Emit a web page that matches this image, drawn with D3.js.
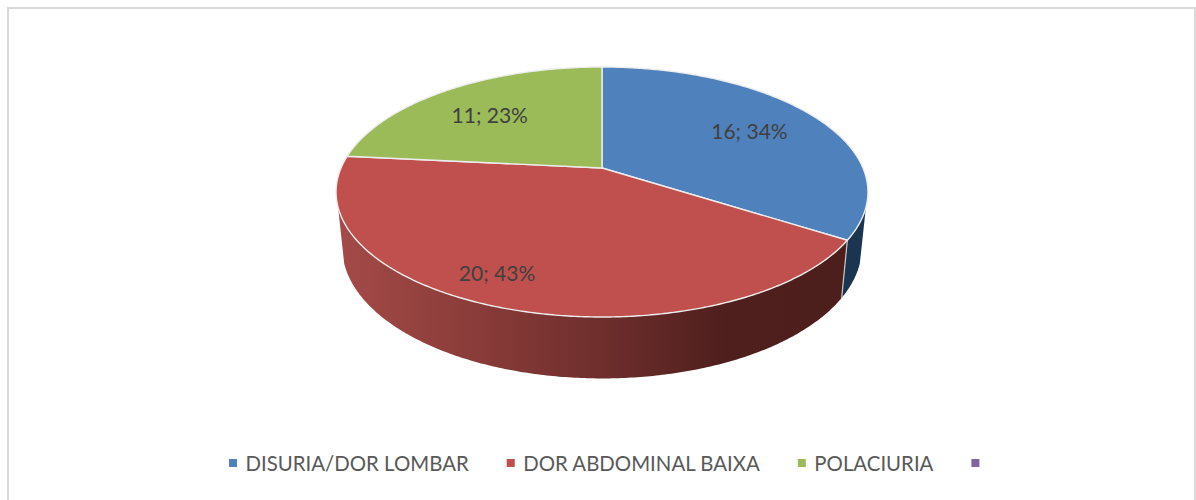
<!DOCTYPE html>
<html><head><meta charset="utf-8">
<script src="https://cdn.jsdelivr.net/npm/d3@7"></script>
<style>html,body{margin:0;padding:0;background:#fff;overflow:hidden}svg{display:block}</style>
</head><body><svg id="c" width="1196" height="500"></svg>
<script>
const categories = ["DISURIA/DOR LOMBAR", "DOR ABDOMINAL BAIXA", "POLACIURIA", ""];
const values = [16, 20, 11, 0];
const colors = ["#4F81BD", "#C0504D", "#9BBB59", "#8064A2"];
const wallColors = ["#1B3450", null, "#4E6128", "#40315A"];
const redWallStops = [[0, "#A44A48"], [0.3, "#863A37"], [0.55, "#6A2C2A"], [0.76, "#4E1F1D"], [1, "#4C1E1C"]];
const labelShift = [[0, 0], [-38, 16], [-3, 2], [0, 0]];

const svg = d3.select("#c");
svg.append("path").attr("d", "M8 500V8H1195V500").attr("fill", "none").attr("stroke", "#D9D9D9").attr("stroke-width", 2);

const k = 0.192;
const rings = {
  top: {cx: 602, cy: 168, a: 261, b: 120.4},
  base: {cx: 602, cy: 222, a: 255, b: 126.4}
};
const project = (ring, theta, r = 1) => {
  const u = r * Math.sin(theta), v = -r * Math.cos(theta), d = 1 - k * v;
  return [ring.cx + ring.a * u / d, ring.cy + ring.b * v / d];
};
const arcPts = (ring, t0, t1) => {
  const n = Math.max(2, Math.ceil(Math.abs(t1 - t0) / 0.01));
  return d3.range(n + 1).map(i => project(ring, t0 + (t1 - t0) * i / n));
};
const line = d3.line();
const pie = d3.pie().sort(null).value(d => d);
const arcs = pie(values);
const total = d3.sum(values);
const deg = Math.PI / 180;
const visibleFrom = 108 * deg, visibleTo = 252 * deg;

const defs = svg.append("defs");
const grad = defs.append("linearGradient").attr("id", "redWall")
  .attr("gradientUnits", "userSpaceOnUse").attr("x1", 340).attr("x2", 850).attr("y1", 0).attr("y2", 0);
redWallStops.forEach(s => grad.append("stop").attr("offset", s[0]).attr("stop-color", s[1]));

// side walls
arcs.forEach((d, i) => {
  if (!d.value) return;
  const t0 = Math.max(d.startAngle, visibleFrom), t1 = Math.min(d.endAngle, visibleTo);
  if (t1 <= t0) return;
  const pts = arcPts(rings.top, t0, t1).concat(arcPts(rings.base, t1, t0));
  svg.append("path").attr("d", line(pts) + "Z")
    .attr("fill", i === 1 ? "url(#redWall)" : wallColors[i])
    .attr("stroke", "none");
  if (d.startAngle > visibleFrom && d.startAngle < visibleTo) {
    svg.append("path").attr("d", line([project(rings.top, d.startAngle), project(rings.base, d.startAngle)]))
      .attr("stroke", "#C9C9C9").attr("stroke-width", 1.2).attr("fill", "none");
  }
});

// top faces
arcs.forEach((d, i) => {
  if (!d.value) return;
  const pts = [[rings.top.cx, rings.top.cy]].concat(arcPts(rings.top, d.startAngle, d.endAngle));
  svg.append("path").attr("d", line(pts) + "Z")
    .attr("fill", colors[i]).attr("stroke", "#EDEDED").attr("stroke-width", 1.4).attr("stroke-linejoin", "round");
});

// data labels
arcs.forEach((d, i) => {
  if (!d.value) return;
  const p = project(rings.top, (d.startAngle + d.endAngle) / 2, 0.685);
  svg.append("text")
    .attr("x", p[0] + labelShift[i][0]).attr("y", p[1] + labelShift[i][1])
    .attr("text-anchor", "middle").attr("dominant-baseline", "central")
    .attr("font-family", "Lato, sans-serif").attr("font-size", 21).attr("fill", "#404040")
    .text(`${d.value}; ${Math.round(d.value / total * 100)}%`);
});

// legend
const legend = svg.append("g");
let x = 229;
categories.forEach((c, i) => {
  legend.append("rect").attr("x", x).attr("y", 459).attr("width", 8).attr("height", 8).attr("fill", colors[i]);
  const t = legend.append("text").attr("x", x + 16.5).attr("y", 463)
    .attr("dominant-baseline", "central")
    .attr("font-family", "Lato, sans-serif").attr("font-size", 20.4).attr("fill", "#595959").text(c);
  x += 16.5 + t.node().getComputedTextLength() + 38;
});
</script></body></html>
